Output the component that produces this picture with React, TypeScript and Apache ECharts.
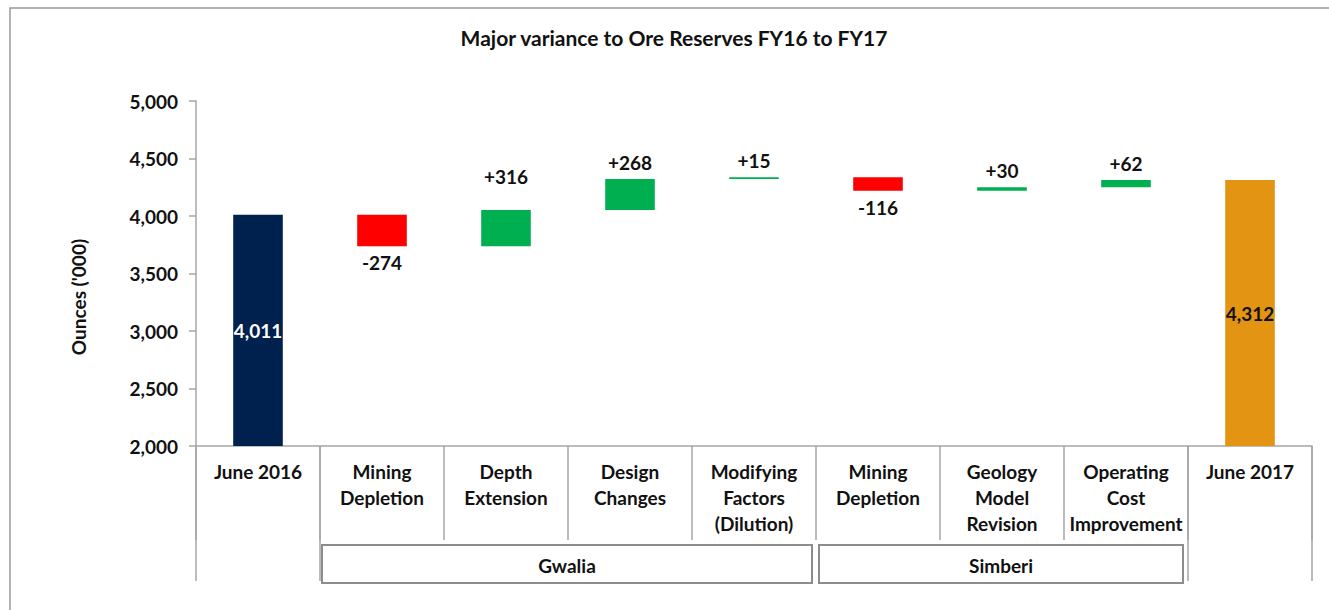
import React, { useEffect, useRef } from "react";
import * as echarts from "echarts";

const titleText = "Major variance to Ore Reserves FY16 to FY17";
const yAxisTitle = "Ounces ('000)";
const categories = [
  "June 2016",
  "Mining\nDepletion",
  "Depth\nExtension",
  "Design\nChanges",
  "Modifying\nFactors\n(Dilution)",
  "Mining\nDepletion",
  "Geology\nModel\nRevision",
  "Operating\nCost\nImprovement",
  "June 2017",
];
const startValue = 4011;
const changes = [-274, 316, 268, 15, -116, 30, 62];
const endValue = 4312;
const groupNames = ["Gwalia", "Simberi"];
const groupFrom = [1, 5];
const groupTo = [4, 7];
const yMin = 2000;
const yMax = 5000;
const yStep = 500;

const FONT = "Lato, 'Open Sans', sans-serif";
const TEXT = "#111111";
const GRID_L = 196;
const GRID_R = 17;
const GRID_T = 101;
const GRID_B = 164;

function fmt(v: number) {
  return v.toLocaleString("en-US");
}

export default function App() {
  const ref = useRef<HTMLDivElement>(null);
  useEffect(() => {
    if (!ref.current) return;
    const chart = echarts.init(ref.current, undefined, { renderer: "svg" });

    const base: number[] = [];
    const heights: number[] = [];
    const kinds: string[] = [];
    base.push(0);
    heights.push(startValue);
    kinds.push("start");
    let running = startValue;
    changes.forEach((d) => {
      base.push(Math.min(running, running + d));
      heights.push(Math.abs(d));
      kinds.push(d >= 0 ? "up" : "down");
      running += d;
    });
    base.push(0);
    heights.push(endValue);
    kinds.push("end");

    const colorOf: Record<string, string> = {
      start: "#00204E",
      end: "#E39412",
      up: "#00B050",
      down: "#FF0000",
    };

    const valueData = heights.map((h, i) => {
      const k = kinds[i];
      const isTotal = k === "start" || k === "end";
      return {
        value: h,
        itemStyle: { color: colorOf[k] },
        label: {
          show: true,
          position: isTotal ? "inside" : k === "up" ? "top" : "bottom",
          distance: i === 2 ? 24 : 7,
          color: k === "start" ? "#ffffff" : TEXT,
          fontFamily: FONT,
          fontWeight: "bold",
          fontSize: 19,
          formatter: () => {
            if (isTotal) return fmt(h);
            const d = changes[i - 1];
            return (d >= 0 ? "+" : "-") + fmt(Math.abs(d));
          },
        },
      };
    });

    const W = 1329;
    const H = 610;
    const plotW = W - GRID_L - GRID_R;
    const band = plotW / categories.length;
    const axisY = H - GRID_B;
    const bx = (i: number) => GRID_L + band * i;
    const lineColor = "#a6a6a6";
    const boxTop = 545;
    const boxBottom = 583;

    const graphics: any[] = [
      {
        type: "rect",
        silent: true,
        z: -10,
        shape: { x: 10, y: 8, width: 1400, height: 700 },
        style: { fill: "none", stroke: "#999999", lineWidth: 1.5 },
      },
      {
        type: "text",
        x: 674,
        y: 37,
        style: {
          text: titleText,
          align: "center",
          verticalAlign: "middle",
          font: `bold 21px ${FONT}`,
          fill: TEXT,
        },
      },
      {
        type: "text",
        x: 78,
        y: 297,
        rotation: Math.PI / 2,
        style: {
          text: yAxisTitle,
          align: "center",
          verticalAlign: "middle",
          font: `bold 19px ${FONT}`,
          fill: TEXT,
        },
      },
    ];
    [0, 1, categories.length - 1, categories.length].forEach((i) => {
      graphics.push({
        type: "line",
        silent: true,
        shape: { x1: bx(i), y1: axisY, x2: bx(i), y2: boxBottom - 2 },
        style: { stroke: lineColor, lineWidth: 1.5 },
      });
    });
    groupNames.forEach((name, g) => {
      const x1 = bx(groupFrom[g]) + (g === 0 ? 2 : 3);
      const x2 = bx(groupTo[g] + 1) - (g === 0 ? 4 : 5);
      graphics.push({
        type: "rect",
        silent: true,
        shape: { x: x1, y: boxTop, width: x2 - x1, height: boxBottom - boxTop },
        style: { fill: "#ffffff", stroke: "#8c8c8c", lineWidth: 2 },
      });
      graphics.push({
        type: "text",
        silent: true,
        x: (x1 + x2) / 2,
        y: (boxTop + boxBottom) / 2 + 1,
        style: {
          text: name,
          align: "center",
          verticalAlign: "middle",
          font: `bold 19px ${FONT}`,
          fill: TEXT,
        },
      });
    });

    chart.setOption({
      animation: false,
      backgroundColor: "#ffffff",
      grid: { left: GRID_L, right: GRID_R, top: GRID_T, bottom: GRID_B, containLabel: false },
      xAxis: {
        type: "category",
        data: categories,
        axisLine: { lineStyle: { color: lineColor, width: 1.5 } },
        axisTick: {
          show: true,
          interval: 0,
          length: 94,
          lineStyle: { color: lineColor, width: 1.5 },
        },
        axisLabel: {
          interval: 0,
          margin: 12,
          fontFamily: FONT,
          fontWeight: "bold",
          fontSize: 19,
          lineHeight: 26,
          color: TEXT,
          verticalAlign: "top",
        },
      },
      yAxis: {
        type: "value",
        min: yMin,
        max: yMax,
        interval: yStep,
        splitLine: { show: false },
        axisLine: { show: true, lineStyle: { color: lineColor, width: 1.5 } },
        axisTick: { show: true, length: 7, lineStyle: { color: lineColor, width: 1.5 } },
        axisLabel: {
          margin: 18,
          fontFamily: FONT,
          fontWeight: "bold",
          fontSize: 19,
          color: TEXT,
          formatter: (v: number) => fmt(v),
        },
      },
      graphic: graphics,
      series: [
        {
          name: "base",
          type: "bar",
          stack: "w",
          barWidth: "40%",
          silent: true,
          itemStyle: { color: "transparent" },
          data: base,
        },
        {
          name: "value",
          type: "bar",
          stack: "w",
          barWidth: "40%",
          data: valueData,
        },
      ],
    });
    return () => chart.dispose();
  }, []);
  return (
    <div
      ref={ref}
      style={{ position: "fixed", left: 0, top: 0, width: 1329, height: 610, background: "#fff" }}
    />
  );
}
